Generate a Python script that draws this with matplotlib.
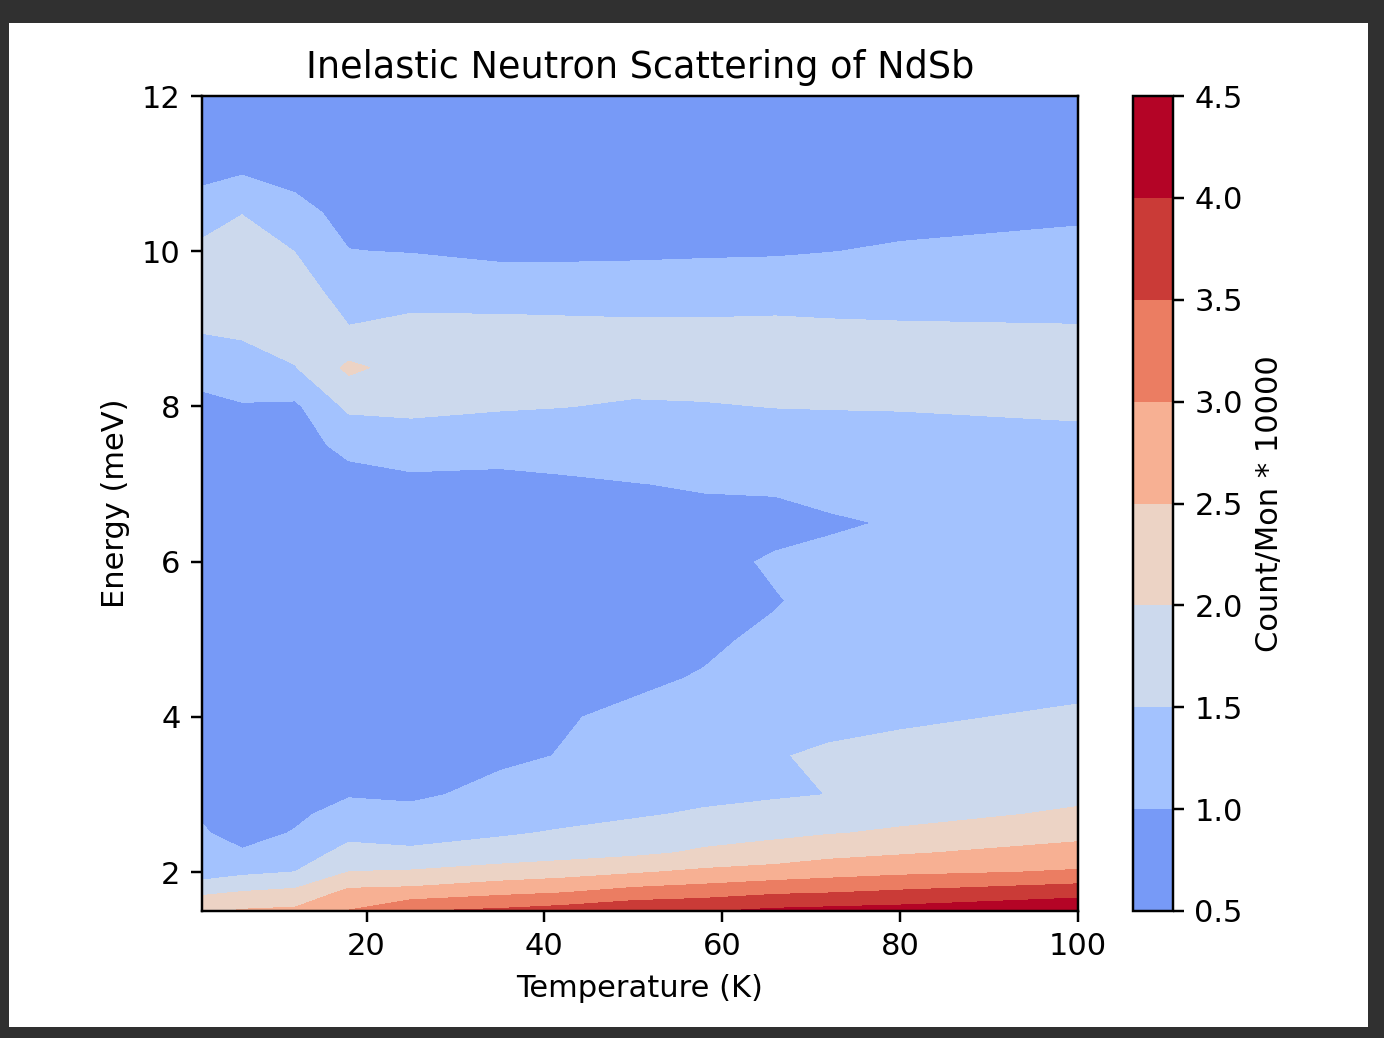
import numpy as np
import matplotlib.pyplot as plt
from matplotlib.patches import Rectangle

# measurement grid
temperature = [1.5, 6, 12, 18, 25, 35, 42, 50, 58, 66, 72, 80, 100]
energy = [1.5, 1.75, 2.0, 2.25, 2.5, 2.75, 3.0, 3.5, 4.0, 4.5, 5.0, 5.5,
          6.0, 6.5, 7.0, 7.5, 8.0, 8.5, 9.0, 9.5, 10.0, 10.5, 11.0, 11.5, 12.0]
levels = [0.5, 1.0, 1.5, 2.0, 2.5, 3.0, 3.5, 4.0, 4.5]

# count/mon * 10000, one row per temperature (energies as above)
counts = [
    [2.40, 1.90, 1.23, 1.12, 1.03, 0.97, 0.90, 0.80, 0.75, 0.72, 0.70, 0.70, 0.72, 0.75, 0.80, 0.85, 0.92, 1.12, 1.55, 1.80, 1.62, 1.25, 0.88, 0.75, 0.70],
    [2.55, 2.00, 1.40, 1.03, 0.90, 0.80, 0.75, 0.68, 0.65, 0.63, 0.62, 0.62, 0.63, 0.68, 0.75, 0.85, 0.97, 1.25, 1.60, 1.85, 1.80, 1.48, 0.98, 0.75, 0.70],
    [2.60, 2.10, 1.51, 1.20, 1.02, 0.95, 0.90, 0.78, 0.72, 0.70, 0.68, 0.68, 0.70, 0.74, 0.80, 0.88, 0.92, 1.48, 1.75, 1.70, 1.49, 1.15, 0.85, 0.72, 0.68],
    [3.02, 2.60, 2.01, 1.68, 1.35, 1.10, 0.98, 0.85, 0.78, 0.75, 0.73, 0.73, 0.75, 0.80, 0.88, 1.08, 1.60, 2.10, 1.52, 1.30, 1.01, 0.85, 0.75, 0.70, 0.68],
    [3.48, 2.65, 2.05, 1.60, 1.30, 1.08, 0.95, 0.85, 0.78, 0.74, 0.72, 0.72, 0.74, 0.80, 0.93, 1.15, 1.65, 1.80, 1.60, 1.35, 0.98, 0.80, 0.72, 0.68, 0.66],
    [3.60, 2.85, 2.20, 1.72, 1.45, 1.25, 1.08, 0.95, 0.85, 0.80, 0.77, 0.77, 0.78, 0.82, 0.92, 1.12, 1.55, 1.75, 1.62, 1.30, 0.88, 0.78, 0.70, 0.66, 0.65],
    [3.72, 2.95, 2.30, 1.80, 1.55, 1.35, 1.20, 1.01, 0.98, 0.88, 0.84, 0.82, 0.82, 0.85, 0.95, 1.15, 1.51, 1.75, 1.60, 1.30, 0.88, 0.76, 0.70, 0.66, 0.65],
    [3.90, 3.15, 2.45, 1.90, 1.65, 1.45, 1.30, 1.15, 1.05, 0.95, 0.88, 0.85, 0.84, 0.87, 0.99, 1.20, 1.45, 1.70, 1.58, 1.30, 0.90, 0.77, 0.70, 0.67, 0.66],
    [3.97, 3.25, 2.60, 2.07, 1.82, 1.55, 1.40, 1.25, 1.12, 1.02, 0.95, 0.90, 0.88, 0.90, 1.03, 1.25, 1.47, 1.70, 1.58, 1.30, 0.93, 0.78, 0.71, 0.68, 0.67],
    [4.10, 3.40, 2.70, 2.20, 1.90, 1.65, 1.45, 1.48, 1.35, 1.15, 1.06, 0.98, 1.05, 0.87, 1.06, 1.25, 1.51, 1.70, 1.60, 1.30, 0.95, 0.80, 0.72, 0.68, 0.67],
    [4.15, 3.45, 2.80, 2.35, 1.98, 1.78, 1.505, 1.55, 1.40, 1.30, 1.20, 1.10, 1.06, 0.97, 1.08, 1.27, 1.52, 1.70, 1.57, 1.30, 0.99, 0.82, 0.74, 0.69, 0.68],
    [4.20, 3.55, 2.90, 2.45, 2.06, 1.88, 1.75, 1.60, 1.45, 1.35, 1.25, 1.18, 1.12, 1.02, 1.10, 1.28, 1.53, 1.68, 1.55, 1.30, 1.05, 0.85, 0.75, 0.70, 0.68],
    [4.40, 3.80, 3.05, 2.70, 2.35, 2.05, 1.92, 1.75, 1.55, 1.40, 1.30, 1.25, 1.20, 1.20, 1.25, 1.40, 1.56, 1.70, 1.52, 1.35, 1.15, 0.92, 0.78, 0.72, 0.70],
]

Z = np.array(counts).T

W, H, DPI = 1384, 1038, 220
fig = plt.figure(figsize=(W / DPI, H / DPI), dpi=DPI, facecolor='#303030')
# white page inside the dark screenshot frame
fig.patches.append(Rectangle((9 / W, 1 - 1027 / H), 1359 / W, 1004 / H,
                             transform=fig.transFigure, facecolor='white',
                             edgecolor='none', zorder=-1))

ax = fig.add_axes([202 / W, 1 - 911 / H, 876 / W, 815 / H])
cax = fig.add_axes([1133 / W, 1 - 911 / H, 40 / W, 815 / H])

cs = ax.contourf(temperature, energy, Z, levels=levels, cmap='coolwarm',
                 vmin=0, vmax=4)
cb = fig.colorbar(cs, cax=cax)
cb.set_label('Count/Mon * 10000')

ax.set_title('Inelastic Neutron Scattering of NdSb')
ax.set_xlabel('Temperature (K)')
ax.set_ylabel('Energy (meV)')

fig.savefig('out.png', dpi=DPI, facecolor=fig.get_facecolor())
